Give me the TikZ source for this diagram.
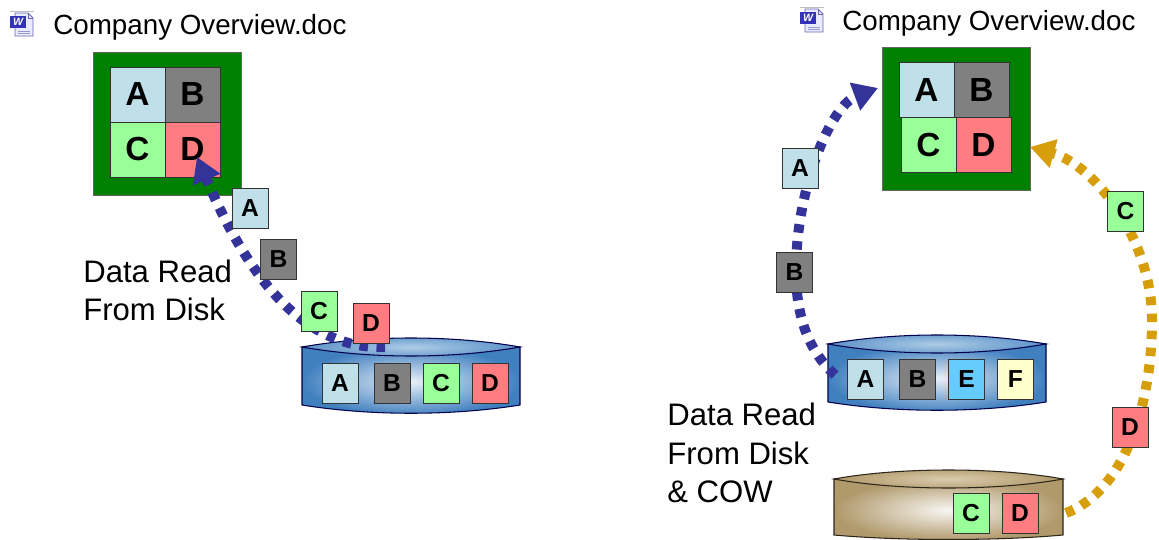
\documentclass[tikz,border=0pt]{standalone}
\usepackage{xcolor}
\usepackage{fontspec}
\setmainfont{Liberation Sans}
\usepackage{tikz}
\usetikzlibrary{positioning,arrows.meta}
\definecolor{c_a}{rgb}{0.75, 0.88, 0.91}
\definecolor{c_b}{rgb}{0.50, 0.50, 0.50}
\definecolor{c_c}{rgb}{0.60, 1.0, 0.60}
\definecolor{c_d}{rgb}{1.0, 0.49, 0.50}
\definecolor{c_e}{rgb}{0.40, 0.80, 1.0}
\definecolor{c_f}{rgb}{1.0, 1.0, 0.80}
\definecolor{c_doc}{rgb}{0.0, 0.50, 0.0}
\definecolor{c_read}{rgb}{0.20, 0.20, 0.60}
\definecolor{c_cow}{rgb}{0.84, 0.62, 0.04}
\definecolor{c_blue}{rgb}{0.25, 0.50, 0.75}
\definecolor{c_bluelid}{rgb}{0.68, 0.80, 0.90}
\definecolor{c_brown}{rgb}{0.69, 0.60, 0.42}
\definecolor{c_brownlid}{rgb}{0.86, 0.80, 0.68}
\tikzset{c-doc/.style={rectangle, minimum width=2.96cm, minimum height=2.86cm, draw=black!60, fill=c_doc},
c-cell/.style={rectangle, minimum width=1.1cm, minimum height=1.1cm, inner sep=0pt, draw=black!80, font=\fontsize{19}{20}\selectfont\bfseries},
c-tile/.style={rectangle, minimum width=0.72cm, minimum height=0.8cm, inner sep=0pt, draw=black!80, font=\fontsize{14}{14}\selectfont\bfseries},
c-title/.style={anchor=west, inner sep=0pt, font=\fontsize{15.8}{18}\selectfont},
c-label/.style={anchor=west, align=left, inner sep=0pt, font=\fontsize{17.7}{21.8}\selectfont},
disk-blue/.style={draw=black!70!blue, line width=0.6pt, inner color=white!88!c_blue, outer color=c_blue},
lid-blue/.style={draw=black!70!blue, line width=0.6pt, inner color=c_bluelid, outer color=c_blue!85!white},
disk-brown/.style={draw=black!75!c_brown, line width=0.6pt, inner color=white!92!c_brown, outer color=c_brown},
lid-brown/.style={draw=black!75!c_brown, line width=0.6pt, inner color=c_brownlid, outer color=c_brown},
arrow/.style={line width=0.2cm, dash pattern=on 0.17cm off 0.17cm, -{Triangle[length=14pt,width=16pt]}},
word-icon/.pic={
\draw [black!25, line width=0.4pt] (0,-1) -- (24,-1);
\draw [blue!50!black!60, fill=blue!8, line width=0.5pt] (5,1) -- (18,1) -- (23,6) -- (23,24) -- (5,24) -- cycle;
\draw [blue!50!black!60, line width=0.4pt] (18,1) -- (18,6) -- (23,6);
\draw [blue!50!black!40, line width=0.4pt] (8,19) -- (20,19) (8,21.5) -- (20,21.5);
\node (w) [rectangle, minimum width=0.32cm, minimum height=0.24cm, inner sep=0pt, fill=blue!65!black!80, text=white, font=\fontsize{6}{6}\selectfont\bfseries\itshape] at (8,10) {W};
}}

\begin{document}
\begin{tikzpicture}[x=0.02cm, y=-0.02cm, node distance=1.1cm]
\useasboundingbox (0,0) rectangle (1159,540);

\pic (icon1) at (10,12) {word-icon};
\node (title1) [c-title] at (53,27.5) {Company Overview.doc};
\node (doc1) [c-doc] at (167,123.5) {};
\node (a1) [c-cell, fill=c_a] at (137.5,94.5) {A};
\node (b1) [c-cell, right of=a1, fill=c_b] {B};
\node (c1) [c-cell, below of=a1, fill=c_c] {C};
\node (d1) [c-cell, right of=c1, fill=c_d] {D};
\node (label1) [c-label] at (83,290.5) {Data Read\\From Disk};

\draw [disk-blue] (302,347) -- (302,405) .. controls (370,416) and (452,416) .. (520,405) -- (520,347) -- cycle;
\draw [lid-blue] (302,347) .. controls (370,335) and (452,335) .. (520,347) .. controls (452,359) and (370,359) .. (302,347) -- cycle;
\node (da1) [c-tile, fill=c_a, node distance=0.98cm] at (340,383) {A};
\node (db1) [c-tile, fill=c_b, node distance=0.98cm, right of=da1, xshift=0.06cm] {B};
\node (dc1) [c-tile, fill=c_c, node distance=0.98cm, right of=db1] {C};
\node (dd1) [c-tile, fill=c_d, node distance=0.98cm, right of=dc1] {D};

\coordinate (read1) at (385,347);
\coordinate (tip1) at (197,157);
\draw [arrow, c_read] (read1) .. controls (300,350) and (245,270) .. (tip1);

\node (fa1) [c-tile, fill=c_a] at (250,208.5) {A};
\node (fb1) [c-tile, fill=c_b] at (278.5,259.5) {B};
\node (fc1) [c-tile, fill=c_c] at (319,311) {C};
\node (fd1) [c-tile, fill=c_d] at (371,323) {D};

\pic (icon2) at (800,8) {word-icon};
\node (title2) [c-title] at (842,23.5) {Company Overview.doc};
\node (doc2) [c-doc] at (956.5,119) {};
\node (a2) [c-cell, fill=c_a] at (926.5,90) {A};
\node (b2) [c-cell, right of=a2, fill=c_b] {B};
\node (c2) [c-cell, below of=a2, xshift=0.04cm, fill=c_c] {C};
\node (d2) [c-cell, right of=c2, fill=c_d] {D};
\node (label2) [c-label] at (667,453) {Data Read\\From Disk\\\& COW};

\draw [disk-blue] (828,344) -- (828,402) .. controls (896,413) and (978,413) .. (1046,402) -- (1046,344) -- cycle;
\draw [lid-blue] (828,344) .. controls (896,332) and (978,332) .. (1046,344) .. controls (978,356) and (896,356) .. (828,344) -- cycle;
\node (da2) [c-tile, fill=c_a, node distance=0.98cm] at (865.5,379) {A};
\node (db2) [c-tile, fill=c_b, node distance=0.98cm, right of=da2, xshift=0.06cm] {B};
\node (de2) [c-tile, fill=c_e, node distance=0.98cm, right of=db2] {E};
\node (df2) [c-tile, fill=c_f, node distance=0.98cm, right of=de2] {F};

\draw [disk-brown] (834,479) -- (834,535) .. controls (900,541) and (997,541) .. (1063,535) -- (1063,479) -- cycle;
\draw [lid-brown] (834,479) .. controls (900,467) and (997,467) .. (1063,479) .. controls (997,491) and (900,491) .. (834,479) -- cycle;
\node (dc2) [c-tile, fill=c_c] at (971,513) {C};
\node (dd2) [c-tile, fill=c_d, node distance=0.98cm, right of=dc2] {D};

\coordinate (read2) at (835,375);
\coordinate (tip2) at (878,88);
\coordinate (cow2) at (1066,513);
\coordinate (tip3) at (1030,147);
\draw [arrow, c_read] (read2) .. controls (810,352) and (796,320) .. (796,270) .. controls (796,190) and (830,106) .. (tip2);
\draw [arrow, c_cow] (cow2) .. controls (1122,492) and (1152,410) .. (1152,320) .. controls (1152,240) and (1095,165) .. (tip3);

\node (fa2) [c-tile, fill=c_a] at (800,168.5) {A};
\node (fb2) [c-tile, fill=c_b] at (794.5,272.5) {B};
\node (fc2) [c-tile, fill=c_c] at (1125.5,211) {C};
\node (fd2) [c-tile, fill=c_d] at (1130,427.5) {D};
\end{tikzpicture}
\end{document}
